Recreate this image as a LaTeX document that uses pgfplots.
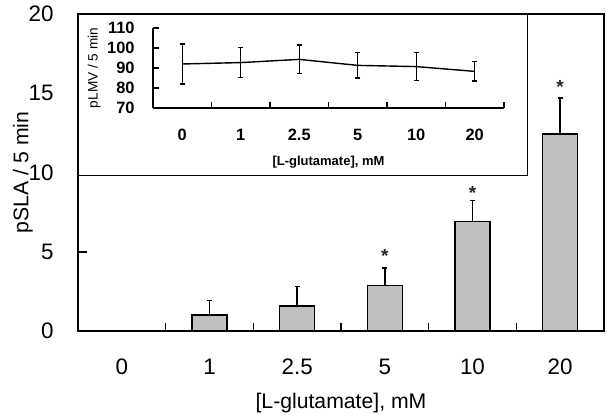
\documentclass[border=0pt]{standalone}
\usepackage{fontspec}
\setmainfont{Liberation Sans}
\usepackage{pgfplots}
\pgfplotsset{compat=1.18}
\definecolor{bargray}{HTML}{C0C0C0}

\begin{document}
\begin{tikzpicture}
\useasboundingbox (-39pt,-42pt) rectangle (264.5pt,165.5pt);
% main panel: pSLA bars
\begin{axis}[
  name=main, at={(0,0)}, anchor=south west,
  scale only axis, width=263pt, height=158.5pt,
  xmin=-0.5, xmax=5.5, ymin=0, ymax=20,
  xtick={0,...,5}, xticklabels={0,1,2.5,5,10,20},
  minor xtick={0.5,1.5,...,4.5},
  ytick={0,5,...,20},
  tick align=inside, xtick pos=bottom, ytick pos=left,
  major x tick style={draw=none},
  major tick length=4.5pt, minor tick length=4pt,
  every tick/.style={black, line width=0.8pt},
  axis line style={line width=1pt},
  /pgf/number format/assume math mode=true,
  tick label style={font=\fontsize{11.2}{12}\selectfont, inner sep=0pt},
  xticklabel style={anchor=center, yshift=-17.9pt},
  yticklabel style={anchor=east, xshift=-12pt},
  xlabel={[L-glutamate], mM},
  ylabel={pSLA / 5 min},
  label style={font=\fontsize{10.6}{12}\selectfont},
  xlabel style={at={(axis description cs:0.5,-0.227)}, anchor=center},
  ylabel style={at={(axis description cs:-0.105,0.5)}, anchor=center},
  clip=false]
\addplot[ybar, bar width=17.5pt, fill=bargray, draw=black, line width=0.8pt,
  error bars/.cd, y dir=plus, y explicit,
  error bar style={line width=0.9pt},
  error mark options={rotate=90, mark size=1.3pt, line width=0.9pt}]
  coordinates {(1,1.01) +- (0,0.91) (2,1.58) +- (0,1.23) (3,2.87) +- (0,1.12)
               (4,6.9) +- (0,1.33) (5,12.43) +- (0,2.28)};
\addplot[draw=none, mark=none, nodes near coords={*},
  nodes near coords style={anchor=center, inner sep=0pt, yshift=-2.1pt,
    text=black!85, font=\bfseries\fontsize{9.5}{10}\selectfont}]
  coordinates {(3,5.0) (4,8.95) (5,15.66)};
\end{axis}
% inset frame
\fill[white] (0.5pt,77.5pt) rectangle (225pt,158pt);
\draw[line width=0.5pt] (0,77.5pt) -- (225pt,77.5pt) -- (225pt,158.5pt);
% inset: pLMV line
\begin{axis}[
  at={(37.5pt,111.5pt)}, anchor=south west,
  scale only axis, width=175.5pt, height=40pt,
  xmin=-0.5, xmax=5.5, ymin=70, ymax=110,
  axis lines*=left,
  xtick={0,...,5}, xticklabels={0,1,2.5,5,10,20},
  minor xtick={0.5,1.5,...,5.5},
  ytick={70,80,...,110},
  tick align=inside,
  major x tick style={draw=none},
  major tick length=3pt, minor tick length=3pt,
  every tick/.style={black, line width=0.7pt},
  axis line style={line width=0.75pt},
  /pgf/number format/assume math mode=true,
  tick label style={font=\bfseries\fontsize{8.2}{9}\selectfont, inner sep=0pt},
  xticklabel style={anchor=center, yshift=-13.5pt},
  yticklabel style={anchor=east, xshift=-9pt},
  xlabel={[L-glutamate], mM},
  ylabel={pLMV / 5 min},
  xlabel style={font=\bfseries\fontsize{6.5}{7}\selectfont, at={(axis description cs:0.5,-0.675)}, anchor=center},
  ylabel style={font=\fontsize{6.8}{7}\selectfont, at={(axis description cs:-0.168,0.5)}, anchor=center},
  clip=false]
\addplot[black, line width=0.7pt, mark=none,
  error bars/.cd, y dir=both, y explicit,
  error bar style={line width=0.7pt},
  error mark options={rotate=90, mark size=1.3pt, line width=0.7pt}]
  coordinates {(0,92.0) +- (0,10.0) (1,92.7) +- (0,7.5) (2,94.3) +- (0,7.2)
               (3,91.3) +- (0,6.3) (4,90.7) +- (0,7.0) (5,88.3) +- (0,4.8)};
\end{axis}
\end{tikzpicture}
\end{document}
